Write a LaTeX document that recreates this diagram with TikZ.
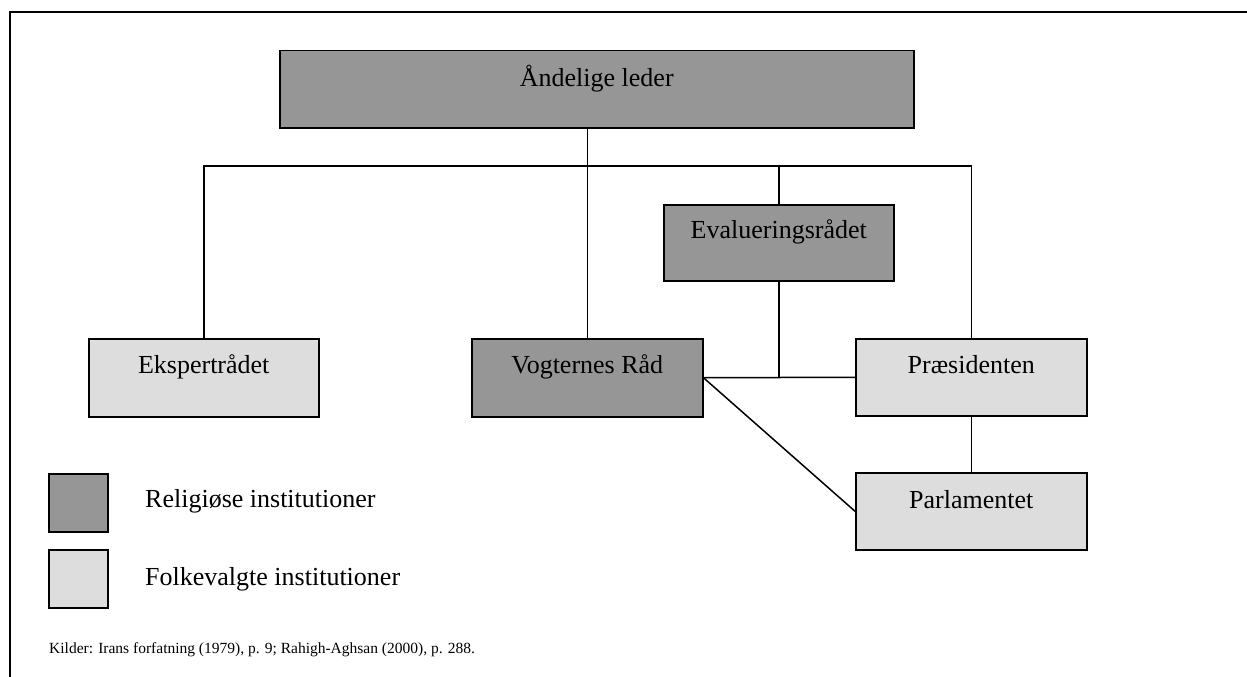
\documentclass[tikz,border=0pt]{standalone}
\usepackage{fontspec}
\setmainfont{Liberation Serif}
\usetikzlibrary{calc}
\definecolor{religgray}{RGB}{150,150,150}
\definecolor{folkgray}{RGB}{221,221,221}
\tikzset{
  orgbox/.style={draw=black, line width=1.5pt, rectangle, inner sep=0pt, anchor=north west},
  religbox/.style={orgbox, fill=religgray},
  folkbox/.style={orgbox, fill=folkgray},
  boxlabel/.style={anchor=base, inner sep=0pt, font=\fontsize{26}{30}\selectfont},
  legendlabel/.style={anchor=base west, inner sep=0pt, font=\fontsize{26}{30}\selectfont},
  sourcenote/.style={anchor=base west, inner sep=0pt, font=\fontsize{15.5}{18}\selectfont},
  link/.style={draw=black, line width=1.5pt},
  frame/.style={draw=black, line width=2pt}
}
\begin{document}
\begin{tikzpicture}[x=1pt, y=-1pt]
\useasboundingbox (0,0) rectangle (1247,677);

% outer frame (top and left edges)
\draw[frame] (10,677) -- (10,12) -- (1247,12);

% institution boxes
\node[religbox, minimum width=634pt, minimum height=77pt] (al) at (279,50) {};
\node[boxlabel] (alT) at ($(al.north)+(0,36)$) {Åndelige leder};

\node[religbox, minimum width=230pt, minimum height=76pt] (ev) at (663,204) {};
\node[boxlabel] (evT) at ($(ev.north)+(0,34)$) {Evalueringsrådet};

\node[folkbox, minimum width=230pt, minimum height=78pt] (ek) at (88,338) {};
\node[boxlabel] (ekT) at ($(ek.north)+(0,35)$) {Ekspertrådet};

\node[religbox, minimum width=231pt, minimum height=78pt] (vr) at (471,338) {};
\node[boxlabel] (vrT) at ($(vr.north)+(0,35)$) {Vogternes Råd};

\node[folkbox, minimum width=231pt, minimum height=77pt] (pr) at (855,338) {};
\node[boxlabel] (prT) at ($(pr.north)+(0,35)$) {Præsidenten};

\node[folkbox, minimum width=231pt, minimum height=77pt] (pa) at (855,472) {};
\node[boxlabel] (paT) at ($(pa.north)+(0,36)$) {Parlamentet};

% connectors
\coordinate (bus) at (0,166);
\draw[link] (vr.north) -- (vr.north |- al.south);
\draw[link] (ek.north) -- (ek.north |- bus) -- (pr.north |- bus) -- (pr.north);
\draw[link] (ev.north) -- (ev.north |- bus);
\draw[link] (ev.south) -- (ev.south |- vr.east);
\draw[link] (vr.east) -- (pr.west);
\draw[link] (pr.south) -- (pa.north);
\draw[link] (vr.east) -- (pa.west);

% legend
\node[religbox, minimum width=59pt, minimum height=58pt] (lgR) at (48,473) {};
\node[legendlabel] (lgRT) at (145,507) {Religiøse institutioner};
\node[folkbox, minimum width=59pt, minimum height=58pt] (lgF) at (48,549) {};
\node[legendlabel] (lgFT) at (145,585) {Folkevalgte institutioner};

% sources
\node[sourcenote] (src) at (49,653) {Kilder: Irans forfatning (1979), p. 9; Rahigh-Aghsan (2000), p. 288.};
\end{tikzpicture}
\end{document}
